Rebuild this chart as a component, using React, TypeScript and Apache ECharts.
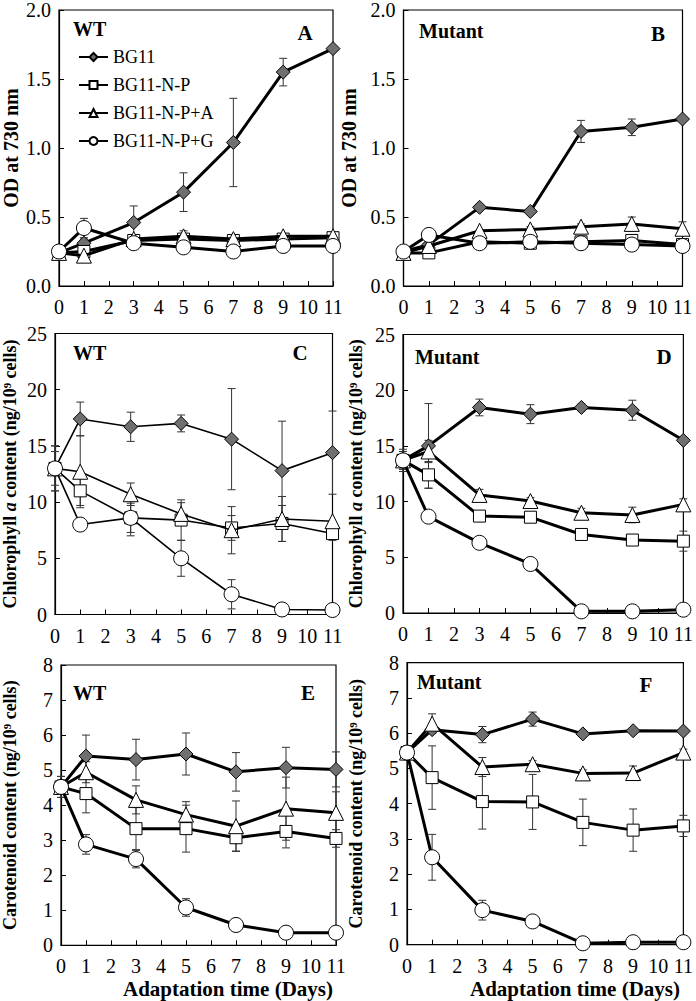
import React, { useEffect, useRef } from "react";
import * as echarts from "echarts";

// ---------- data ----------
const days = [0, 1, 3, 5, 7, 9, 11];
const seriesNames = ["BG11", "BG11-N-P", "BG11-N-P+A", "BG11-N-P+G"];
const xTicks = [0, 1, 2, 3, 4, 5, 6, 7, 8, 9, 10, 11];

// Panel A: WT, OD at 730 nm
const odWT_BG11 = [0.24, 0.31, 0.46, 0.68, 1.04, 1.55, 1.72];
const odWT_NP = [0.24, 0.25, 0.33, 0.34, 0.33, 0.34, 0.35];
const odWT_NPA = [0.24, 0.22, 0.34, 0.36, 0.34, 0.36, 0.36];
const odWT_NPG = [0.25, 0.42, 0.31, 0.28, 0.25, 0.29, 0.29];
const odWT_BG11_err = [0.03, 0.03, 0.12, 0.14, 0.32, 0.1, 0];
const odWT_NP_err = [0.03, 0.03, 0.02, 0.03, 0.02, 0.02, 0.02];
const odWT_NPA_err = [0.05, 0.04, 0.03, 0.04, 0.02, 0.02, 0.02];
const odWT_NPG_err = [0.02, 0.07, 0.02, 0.03, 0.02, 0.02, 0.02];

// Panel B: Mutant, OD at 730 nm
const odMut_BG11 = [0.25, 0.3, 0.57, 0.54, 1.12, 1.15, 1.21];
const odMut_NP = [0.24, 0.24, 0.32, 0.31, 0.32, 0.33, 0.3];
const odMut_NPA = [0.24, 0.29, 0.4, 0.41, 0.43, 0.45, 0.415];
const odMut_NPG = [0.25, 0.37, 0.31, 0.32, 0.31, 0.3, 0.29];
const odMut_BG11_err = [0, 0, 0.02, 0.02, 0.08, 0.06, 0];
const odMut_NP_err = [0, 0, 0, 0, 0, 0.02, 0];
const odMut_NPA_err = [0, 0, 0, 0.02, 0.02, 0.05, 0.05];
const odMut_NPG_err = [0, 0, 0, 0, 0, 0, 0];

// Panel C: WT, Chlorophyll a
const chlWT_BG11 = [13.0, 17.4, 16.7, 17.0, 15.6, 12.8, 14.4];
const chlWT_NP = [13.0, 11.0, 8.6, 8.4, 7.7, 8.1, 7.2];
const chlWT_NPA = [13.0, 12.7, 10.7, 8.95, 7.5, 8.5, 8.3];
const chlWT_NPG = [13.0, 8.0, 8.6, 5.0, 1.8, 0.45, 0.4];
const chlWT_BG11_err = [2.0, 1.5, 1.3, 0.75, 4.5, 4.4, 3.7];
const chlWT_NP_err = [2.0, 1.3, 1.3, 1.8, 1.1, 1.6, 0.6];
const chlWT_NPA_err = [1.5, 3.2, 1.0, 1.0, 2.1, 2.0, 0];
const chlWT_NPG_err = [0.5, 0, 1.6, 1.6, 1.3, 0.2, 0];

// Panel D: Mutant, Chlorophyll a
const chlMut_BG11 = [13.7, 15.0, 18.45, 17.85, 18.45, 18.2, 15.5];
const chlMut_NP = [13.7, 12.4, 8.7, 8.6, 7.05, 6.55, 6.45];
const chlMut_NPA = [13.7, 14.5, 10.6, 10.05, 9.0, 8.8, 9.75];
const chlMut_NPG = [13.7, 8.65, 6.3, 4.4, 0.15, 0.15, 0.3];
const chlMut_BG11_err = [1.0, 3.8, 0.75, 0.85, 0.3, 0.9, 0];
const chlMut_NP_err = [0.8, 1.2, 0.3, 0.3, 0.3, 0.3, 0.9];
const chlMut_NPA_err = [0.8, 1.0, 0.5, 0.3, 0.4, 0.7, 0.5];
const chlMut_NPG_err = [0, 0, 0, 0, 0, 0, 0];

// Panel E: WT, Carotenoid
const carWT_BG11 = [4.52, 5.4, 5.3, 5.46, 4.95, 5.07, 5.02];
const carWT_NP = [4.52, 4.33, 3.33, 3.33, 3.07, 3.25, 3.05];
const carWT_NPA = [4.52, 4.94, 4.15, 3.73, 3.4, 3.9, 3.78];
const carWT_NPG = [4.52, 2.88, 2.46, 1.08, 0.58, 0.36, 0.36];
const carWT_BG11_err = [0.3, 0.6, 0.58, 0.6, 0.55, 0.58, 0.5];
const carWT_NP_err = [0.3, 0.55, 0.6, 0.67, 0.38, 0.47, 0.25];
const carWT_NPA_err = [0.2, 0.3, 0.4, 0.37, 0.72, 0.9, 0.6];
const carWT_NPG_err = [0.1, 0.28, 0.25, 0.25, 0.05, 0.05, 0];

// Panel F: Mutant, Carotenoid
const carMut_BG11 = [5.45, 6.1, 5.96, 6.4, 5.98, 6.07, 6.06];
const carMut_NP = [5.45, 4.74, 4.06, 4.05, 3.47, 3.25, 3.37];
const carMut_NPA = [5.45, 6.27, 5.04, 5.12, 4.86, 4.87, 5.45];
const carMut_NPG = [5.45, 2.48, 0.98, 0.66, 0.04, 0.07, 0.07];
const carMut_BG11_err = [0.1, 0.1, 0.23, 0.2, 0.05, 0.05, 0];
const carMut_NP_err = [0.2, 0.9, 0.78, 0.78, 0.66, 0.6, 0.3];
const carMut_NPA_err = [0.1, 0.28, 0.27, 0.1, 0.1, 0.2, 0.1];
const carMut_NPG_err = [0.1, 0.65, 0.28, 0.05, 0, 0, 0];

const yTicksOD = [0, 0.5, 1.0, 1.5, 2.0];
const yTicksChl = [0, 5, 10, 15, 20, 25];
const yTicksCar = [0, 1, 2, 3, 4, 5, 6, 7, 8];

// ---------- layout / style ----------
const FONT = "Liberation Serif";

const panels = [
  {
    vals: [odWT_BG11, odWT_NP, odWT_NPA, odWT_NPG],
    errs: [odWT_BG11_err, odWT_NP_err, odWT_NPA_err, odWT_NPG_err],
    ticks: yTicksOD, dec: 1, lw: 3,
    grid: { left: 58, top: 9.5, width: 275, height: 276.5 },
    yName: "OD at 730 nm", nameGap: 38, nameSize: 20,
    tag: "WT", tagPos: [73, 29], letter: "A", letterPos: [305, 33],
  },
  {
    vals: [odMut_BG11, odMut_NP, odMut_NPA, odMut_NPG],
    errs: [odMut_BG11_err, odMut_NP_err, odMut_NPA_err, odMut_NPG_err],
    ticks: yTicksOD, dec: 1, lw: 3,
    grid: { left: 403.5, top: 9.5, width: 279, height: 276.5 },
    yName: "OD at 730 nm", nameGap: 45, nameSize: 20,
    tag: "Mutant", tagPos: [419, 31], letter: "B", letterPos: [658, 34],
  },
  {
    vals: [chlWT_BG11, chlWT_NP, chlWT_NPA, chlWT_NPG],
    errs: [chlWT_BG11_err, chlWT_NP_err, chlWT_NPA_err, chlWT_NPG_err],
    ticks: yTicksChl, dec: 0, lw: 1.6,
    grid: { left: 54.5, top: 333.5, width: 278, height: 281 },
    yName: "Chlorophyll {i|a} content (ng/10⁹ cells)", nameGap: 36, nameSize: 18,
    tag: "WT", tagPos: [73, 353], letter: "C", letterPos: [300, 353],
  },
  {
    vals: [chlMut_BG11, chlMut_NP, chlMut_NPA, chlMut_NPG],
    errs: [chlMut_BG11_err, chlMut_NP_err, chlMut_NPA_err, chlMut_NPG_err],
    ticks: yTicksChl, dec: 0, lw: 3,
    grid: { left: 403, top: 334.5, width: 281, height: 278.5 },
    yName: "Chlorophyll {i|a} content (ng/10⁹ cells)", nameGap: 38, nameSize: 18,
    tag: "Mutant", tagPos: [415, 357], letter: "D", letterPos: [664, 357],
  },
  {
    vals: [carWT_BG11, carWT_NP, carWT_NPA, carWT_NPG],
    errs: [carWT_BG11_err, carWT_NP_err, carWT_NPA_err, carWT_NPG_err],
    ticks: yTicksCar, dec: 0, lw: 3,
    grid: { left: 61, top: 665, width: 275, height: 280.3 },
    yName: "Carotenoid content (ng/10⁹ cells)", nameGap: 42, nameSize: 18,
    tag: "WT", tagPos: [73, 693], letter: "E", letterPos: [308, 693],
    xTitle: "Adaptation time (Days)", xTitlePos: [228, 989],
  },
  {
    vals: [carMut_BG11, carMut_NP, carMut_NPA, carMut_NPG],
    errs: [carMut_BG11_err, carMut_NP_err, carMut_NPA_err, carMut_NPG_err],
    ticks: yTicksCar, dec: 0, lw: 3,
    grid: { left: 407, top: 662.7, width: 282, height: 282 },
    yName: "Carotenoid content (ng/10⁹ cells)", nameGap: 42, nameSize: 18,
    tag: "Mutant", tagPos: [417, 682], letter: "F", letterPos: [646, 685],
    xTitle: "Adaptation time (Days)", xTitlePos: [575, 989],
  },
];

const symbols = ["diamond", "rect", "triangle", "circle"];
const symbolSizes = [14, 12, 15, 15];
const fills = ["#6f6f6f", "#ffffff", "#ffffff", "#ffffff"];

function errRender(params: any, api: any) {
  const x = api.value(0);
  const y = api.value(1);
  const e = api.value(2);
  if (!e) return null;
  const top = api.coord([x, y + e]);
  const bot = api.coord([x, Math.max(0, y - e)]);
  const cap = 4;
  const st = { stroke: "#333", lineWidth: 1 };
  return {
    type: "group",
    children: [
      { type: "line", shape: { x1: top[0], y1: top[1], x2: bot[0], y2: bot[1] }, style: st },
      { type: "line", shape: { x1: top[0] - cap, y1: top[1], x2: top[0] + cap, y2: top[1] }, style: st },
      { type: "line", shape: { x1: bot[0] - cap, y1: bot[1], x2: bot[0] + cap, y2: bot[1] }, style: st },
    ],
  };
}

export default function App() {
  const ref = useRef<HTMLDivElement>(null);
  useEffect(() => {
    if (!ref.current) return;
    const chart = echarts.init(ref.current, undefined, { renderer: "svg" });

    const grids: any[] = [];
    const xAxes: any[] = [];
    const yAxes: any[] = [];
    const series: any[] = [];
    const graphics: any[] = [];

    panels.forEach((p, pi) => {
      grids.push({ ...p.grid, show: true, borderColor: "#000", borderWidth: 1.2, backgroundColor: "transparent" });
      xAxes.push({
        type: "value", gridIndex: pi, min: xTicks[0], max: xTicks[xTicks.length - 1], interval: 1,
        axisLine: { lineStyle: { color: "#000", width: 1.2 } },
        axisTick: { inside: true, length: 5, lineStyle: { color: "#000" } },
        axisLabel: { color: "#000", fontSize: 20, fontFamily: FONT, margin: 11, lineHeight: 20 },
        splitLine: { show: false },
      });
      const t = p.ticks;
      yAxes.push({
        type: "value", gridIndex: pi, min: t[0], max: t[t.length - 1], interval: t[1] - t[0],
        axisLine: { show: true, lineStyle: { color: "#000", width: 1.2 } },
        axisTick: { show: true, inside: true, length: 5, lineStyle: { color: "#000" } },
        axisLabel: {
          color: "#000", fontSize: 20, fontFamily: FONT, margin: 8,
          formatter: (v: number) => v.toFixed(p.dec),
        },
        splitLine: { show: false },
        name: p.yName, nameLocation: "middle", nameGap: p.nameGap, nameRotate: 90,
        nameTextStyle: {
          color: "#000", fontSize: p.nameSize, fontWeight: "bold", fontFamily: FONT,
          rich: {
            i: { fontStyle: "italic", fontWeight: "bold", fontSize: p.nameSize, fontFamily: FONT, color: "#000" },
          },
        },
      });

      // error bars (drawn beneath markers)
      p.vals.forEach((vals, si) => {
        series.push({
          type: "custom", name: "err" + pi + "_" + si, xAxisIndex: pi, yAxisIndex: pi,
          renderItem: errRender, z: 1, silent: true,
          encode: { x: 0, y: 1 },
          data: days.map((d, i) => [d, vals[i], p.errs[si][i]]),
        });
      });
      p.vals.forEach((vals, si) => {
        series.push({
          type: "line", name: seriesNames[si], xAxisIndex: pi, yAxisIndex: pi,
          data: days.map((d, i) => [d, vals[i]]),
          symbol: symbols[si], symbolSize: symbolSizes[si], showAllSymbol: true,
          lineStyle: { color: "#000", width: p.lw },
          itemStyle: { color: fills[si], borderColor: "#000", borderWidth: 1 },
          z: 2 + si,
        });
      });

      graphics.push({
        type: "text", x: p.tagPos[0], y: p.tagPos[1],
        style: { text: p.tag, font: `bold 20px ${FONT}`, fill: "#000", textAlign: "left", textVerticalAlign: "middle" },
      });
      graphics.push({
        type: "text", x: p.letterPos[0], y: p.letterPos[1],
        style: { text: p.letter, font: `bold 21px ${FONT}`, fill: "#000", textAlign: "center", textVerticalAlign: "middle" },
      });
      if ((p as any).xTitle) {
        graphics.push({
          type: "text", x: (p as any).xTitlePos[0], y: (p as any).xTitlePos[1],
          style: { text: (p as any).xTitle, font: `bold 21px ${FONT}`, fill: "#000", textAlign: "center", textVerticalAlign: "middle" },
        });
      }
    });

    chart.setOption({
      animation: false,
      backgroundColor: "#ffffff",
      grid: grids,
      xAxis: xAxes,
      yAxis: yAxes,
      series,
      graphic: graphics,
      legend: {
        data: seriesNames,
        orient: "vertical",
        left: 73, top: 43,
        itemWidth: 29, itemHeight: 10, itemGap: 10,
        textStyle: { color: "#000", fontSize: 18, fontFamily: FONT, lineHeight: 18 },
        selectedMode: false,
      },
    });
    return () => chart.dispose();
  }, []);
  return <div ref={ref} style={{ position: "absolute", left: 0, top: 0, width: 696, height: 1001 }} />;
}
